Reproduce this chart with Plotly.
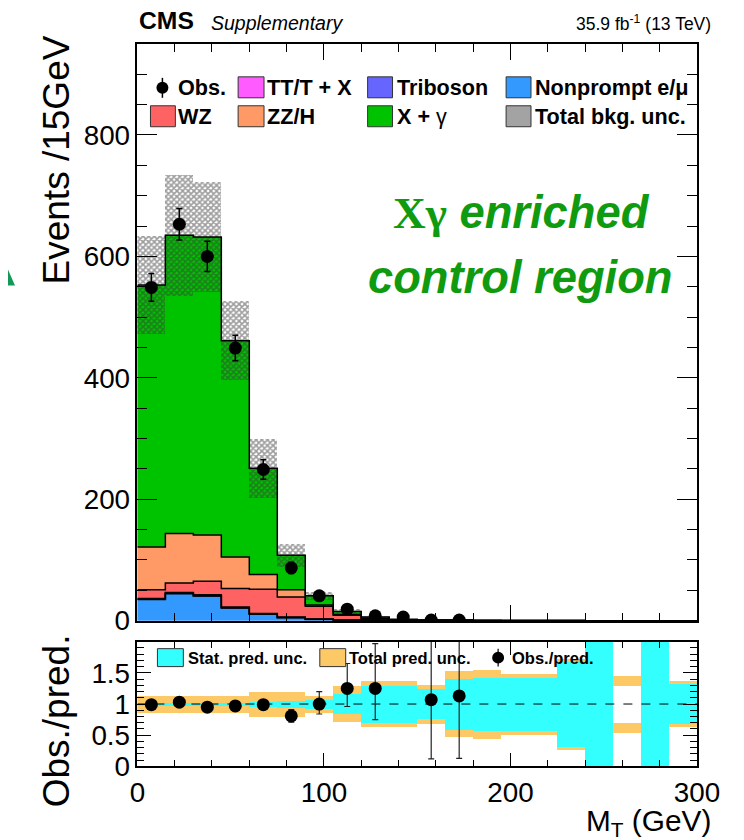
import numpy as np
import plotly.graph_objects as go

# ---------------- data ----------------
bin_edges = list(range(0, 301, 15))
bin_centers = [e + 7.5 for e in bin_edges[:-1]]

nonprompt = [35, 44.5, 40.7, 21, 10.5, 5, 2, 0.8, 0.3, 0.2, 0.1, 0.1, 0.05, 0.05, 0.03, 0.02, 0.0, 0.0, 0.0, 0.0]
triboson = [0.5, 0.6, 0.6, 0.5, 0.4, 0.3, 0.2, 0.15, 0.1, 0.05, 0.05, 0.05, 0.03, 0.03, 0.03, 0.02, 0.02, 0.02, 0.01, 0.02]
ttx = [1.0, 1.4, 1.4, 1.2, 1.1, 1.0, 0.8, 0.5, 0.3, 0.25, 0.1, 0.1, 0.05, 0.05, 0.05, 0.02, 0.02, 0.02, 0.01, 0.02]
wz = [14.5, 15.5, 22.3, 30.3, 40, 32.7, 21, 7.6, 2.3, 1.0, 0.4, 0.35, 0.25, 0.2, 0.2, 0.08, 0.05, 0.05, 0.02, 0.04]
zzh = [70.5, 81.5, 76, 52, 24, 12, 2, 1, 0.5, 0.2, 0.1, 0.1, 0.05, 0.04, 0.03, 0.02, 0.01, 0.01, 0.01, 0.01]
xgamma = [431.5, 491.5, 491, 356, 175, 57, 15, 5, 2.5, 0.8, 0.3, 0.3, 0.12, 0.08, 0.04, 0.01, 0.0, 0.0, 0.0, 0.01]
bkg_unc = [80, 100, 90, 65, 49, 19, 6, 4.5, 2, 1, 0.3, 0.5, 0.25, 0.2, 0.18, 0.11, 0.1, 0.05, 0.05, 0.04]

obs = [549, 653, 600, 449, 249, 87, 41, 19, 8, 6, 1, 1] + [None] * 8
obs_err = [23, 26, 25, 21, 16, 9.3, 6.4, 4.4, 2.8, 2.4, 1, 1] + [None] * 8

ratio = [0.99, 1.03, 0.95, 0.97, 0.99, 0.81, 1.0, 1.25, 1.25, None, 1.07, 1.13] + [None] * 8
ratio_err_up = [0.04, 0.04, 0.04, 0.05, 0.07, 0.1, 0.2, 0.4, 0.72, None, 2.5, 2.5] + [None] * 8
ratio_err_dn = [0.04, 0.04, 0.04, 0.05, 0.07, 0.1, 0.16, 0.29, 0.5, None, 0.95, 1.0] + [None] * 8
tot_unc = [0.14, 0.14, 0.14, 0.14, 0.2, 0.2, 0.14, 0.29, 0.37, 0.37, 0.31, 0.53, 0.55, 0.49, 0.49, 0.73, 1.6, 0.46, 1.6, 0.37]
stat_unc = [0.02, 0.02, 0.02, 0.03, 0.04, 0.06, 0.07, 0.16, 0.30, 0.30, 0.24, 0.41, 0.42, 0.42, 0.42, 0.68, 1.5, 0.30, 1.5, 0.32]
stat_shown = [True] * 17 + [False] + [True] * 2

x_ticks = [0, 100, 200, 300]
y_ticks = [0, 200, 400, 600, 800]
r_ticks = [0, 0.5, 1, 1.5]
r_tick_text = ["0", "0.5", "1", "1.5"]

components = [
    ("Nonprompt e/μ", nonprompt, "#3399ff"),
    ("Triboson", triboson, "#6666ff"),
    ("TT/T + X", ttx, "#ff5bff"),
    ("WZ", wz, "#ff6262"),
    ("ZZ/H", zzh, "#ff9966"),
    ("X + γ", xgamma, "#00c300"),
]

# ---------------- geometry helpers ----------------
W, H = 744, 840
SX, OX, SY = 0.962, 5.0, 0.983      # observed render mapping, compensated below
def px(x):
    return ((x - OX) / SX) / W
def py(y):
    return 1 - (y / SY) / H
def fs(s):
    return round(s / 0.972, 1)

FONT = "Liberation Sans"
fig = go.Figure()

# stacked components
base = np.zeros(len(bin_centers))
levels = []
for name, vals, col in components:
    v = np.array(vals, dtype=float)
    fig.add_trace(go.Bar(x=bin_centers, y=v, base=base.copy(), width=15, name=name,
                         marker=dict(color=col, line=dict(width=0)), xaxis="x", yaxis="y",
                         showlegend=False))
    base = base + v
    levels.append(base.copy())
total = base.copy()

# hatched uncertainty
unc = np.array(bkg_unc)
fig.add_trace(go.Bar(x=bin_centers, y=2 * unc, base=total - unc, width=15,
                     marker=dict(color="rgba(0,0,0,0)", line=dict(width=0),
                                 pattern=dict(shape="x", fgcolor="#3a3a3a", bgcolor="rgba(0,0,0,0)",
                                              size=4, solidity=0.65)),
                     xaxis="x", yaxis="y", showlegend=False))

# step outlines
for lev in levels:
    fig.add_trace(go.Scatter(x=bin_edges, y=list(lev) + [lev[-1]], mode="lines",
                             line=dict(color="black", width=1.5, shape="hv"),
                             xaxis="x", yaxis="y", showlegend=False, hoverinfo="skip"))

# observed data
fig.add_trace(go.Scatter(x=bin_centers, y=obs, mode="markers",
                         marker=dict(color="black", size=13),
                         error_y=dict(type="data", array=obs_err, color="black", thickness=1.5, width=3),
                         xaxis="x", yaxis="y", showlegend=False))

# ratio panel bands
tu = np.array(tot_unc)
su = np.array(stat_unc)
fig.add_trace(go.Bar(x=bin_centers, y=tu - su, base=1 + su, width=15,
                     marker=dict(color="#fdc966", line=dict(width=0)),
                     xaxis="x2", yaxis="y2", showlegend=False))
fig.add_trace(go.Bar(x=bin_centers, y=tu - su, base=1 - tu, width=15,
                     marker=dict(color="#fdc966", line=dict(width=0)),
                     xaxis="x2", yaxis="y2", showlegend=False))
fig.add_trace(go.Bar(x=bin_centers, y=2 * su, base=1 - su, width=15,
                     marker=dict(color=["#33ffff" if s else "white" for s in stat_shown], line=dict(width=0)),
                     xaxis="x2", yaxis="y2", showlegend=False))
fig.add_trace(go.Scatter(x=[0, 300], y=[1, 1], mode="lines",
                         line=dict(color="black", width=1, dash="dash"),
                         xaxis="x2", yaxis="y2", showlegend=False))
fig.add_trace(go.Scatter(x=bin_centers, y=ratio, mode="markers",
                         marker=dict(color="black", size=13),
                         error_y=dict(type="data", array=ratio_err_up, arrayminus=ratio_err_dn,
                                      color="#222", thickness=1.2, width=3),
                         xaxis="x2", yaxis="y2", showlegend=False, cliponaxis=True))

# ---------------- axes ----------------
tickfont = dict(family=FONT, size=fs(27), color="black")
common = dict(showline=True, linecolor="black", linewidth=1.5, mirror="allticks",
              ticks="inside", tickcolor="black", showgrid=False, zeroline=False)
x_dom = [135 / W, 719 / W]     # right edge kept so the "300" label stays inside the page

fig.update_layout(
    width=W, height=H, autosize=False,
    margin=dict(l=0, r=0, t=0, b=0),
    paper_bgcolor="white", plot_bgcolor="white",
    barmode="overlay", bargap=0,
    font=dict(family=FONT, color="black"),
    xaxis=dict(domain=x_dom, range=[0, 300], anchor="y", showticklabels=False,
               tickvals=x_ticks, ticklen=16, tickwidth=1.2,
               minor=dict(dtick=20, ticklen=8, ticks="inside", tickcolor="black"), **common),
    yaxis=dict(domain=[py(622), py(44)], range=[0, 950], anchor="x",
               tickvals=y_ticks, ticklen=20, tickwidth=1.2, tickfont=tickfont,
               minor=dict(dtick=50, ticklen=10, ticks="inside", tickcolor="black"), **common),
    xaxis2=dict(domain=x_dom, range=[0, 300], anchor="y2",
                tickvals=x_ticks, ticklen=14, tickwidth=1.2, tickfont=tickfont,
                minor=dict(dtick=20, ticklen=7, ticks="inside", tickcolor="black"), **common),
    yaxis2=dict(domain=[py(768), py(643)], range=[0, 2], anchor="x2",
                tickvals=r_ticks, ticktext=r_tick_text, ticklen=14, tickwidth=1.2,
                tickfont=tickfont,
                minor=dict(dtick=0.1, ticklen=7, ticks="inside", tickcolor="black"), **common),
)

# ---------------- texts ----------------
ann = []
def text(x, y, s, size, xanchor="left", yanchor="middle", color="black", angle=0, family=FONT):
    ann.append(dict(x=px(x), y=py(y), xref="paper", yref="paper", text=s, showarrow=False,
                    xanchor=xanchor, yanchor=yanchor, textangle=angle,
                    font=dict(family=family, size=fs(size), color=color)))

text(134, 36, "<b>CMS</b>", 24, yanchor="bottom")
text(207, 36, "<i>Supplementary</i>", 19, yanchor="bottom")
text(713, 36, "35.9 fb<sup>-1</sup> (13 TeV)", 17, xanchor="right", yanchor="bottom")

text(54, 160, "Events /15GeV", 36, xanchor="center", angle=-90)
text(54, 722, "Obs./pred.", 36, xanchor="center", angle=-90)
text(713, 824, "M<sub>T</sub> (GeV)", 29, xanchor="right")

green = "#0f9a0f"
text(520, 213, '<b><span style="font-family:Liberation Serif">Xγ</span> <i>enriched</i></b>', 44,
     xanchor="center", color=green)
text(519, 278, "<b><i>control region</i></b>", 44, xanchor="center", color=green)

# main legend (manual)
shapes = []
def box(x0, y0, x1, y1, fill, line="#333"):
    shapes.append(dict(type="rect", xref="paper", yref="paper", x0=px(x0), x1=px(x1), y0=py(y1), y1=py(y0),
                       fillcolor=fill, line=dict(color=line, width=1)))

LF = 21
r1, r2 = 88, 117
shapes.append(dict(type="line", xref="paper", yref="paper", x0=px(160), x1=px(160), y0=py(r1 - 10), y1=py(r1 + 10),
                   line=dict(color="black", width=1.5)))
shapes.append(dict(type="circle", xref="paper", yref="paper", x0=px(154), x1=px(166), y0=py(r1 + 6), y1=py(r1 - 6),
                   fillcolor="black", line=dict(color="black", width=0)))
text(174, r1, "<b>Obs.</b>", LF)
box(236, r1 - 11, 262, r1 + 10, "#ff5bff")
text(263, r1, "<b>TT/T + X</b>", LF)
box(366, r1 - 11, 391, r1 + 10, "#6666ff")
text(393, r1, "<b>Triboson</b>", LF)
box(505, r1 - 11, 530, r1 + 10, "#3399ff")
text(532, r1, "<b>Nonprompt e/μ</b>", LF)

box(148, r2 - 11, 173, r2 + 10, "#ff6262")
text(174, r2, "<b>WZ</b>", LF)
box(236, r2 - 11, 262, r2 + 10, "#ff9966")
text(263, r2, "<b>ZZ/H</b>", LF)
box(366, r2 - 11, 391, r2 + 10, "#00c300")
text(393, r2, "<b>X + </b>γ", LF)
box(505, r2 - 11, 530, r2 + 10, "#a3a3a3")
text(532, r2, "<b>Total bkg. unc.</b>", LF)

# ratio legend
rl = 659
box(155, rl - 9, 181, rl + 9, "#33ffff")
text(184, rl, "<b>Stat. pred. unc.</b>", 16)
box(318, rl - 9, 344, rl + 9, "#fdc966")
text(345, rl, "<b>Total pred. unc.</b>", 16)
shapes.append(dict(type="line", xref="paper", yref="paper", x0=px(497), x1=px(497), y0=py(rl - 9), y1=py(rl + 9),
                   line=dict(color="black", width=1.2)))
shapes.append(dict(type="circle", xref="paper", yref="paper", x0=px(491), x1=px(503), y0=py(rl + 6), y1=py(rl - 6),
                   fillcolor="black", line=dict(color="black", width=0)))
text(509, rl, "<b>Obs./pred.</b>", 16)

# small green arrow fragment at the left edge
shapes.append(dict(type="path", xref="paper", yref="paper",
                   path=f"M 0 {py(270)} L {px(12)} {py(286)} L 0 {py(286)} Z",
                   fillcolor="#119a55", line=dict(width=0)))

fig.update_layout(annotations=ann, shapes=shapes)
fig.write_html("out.html")
